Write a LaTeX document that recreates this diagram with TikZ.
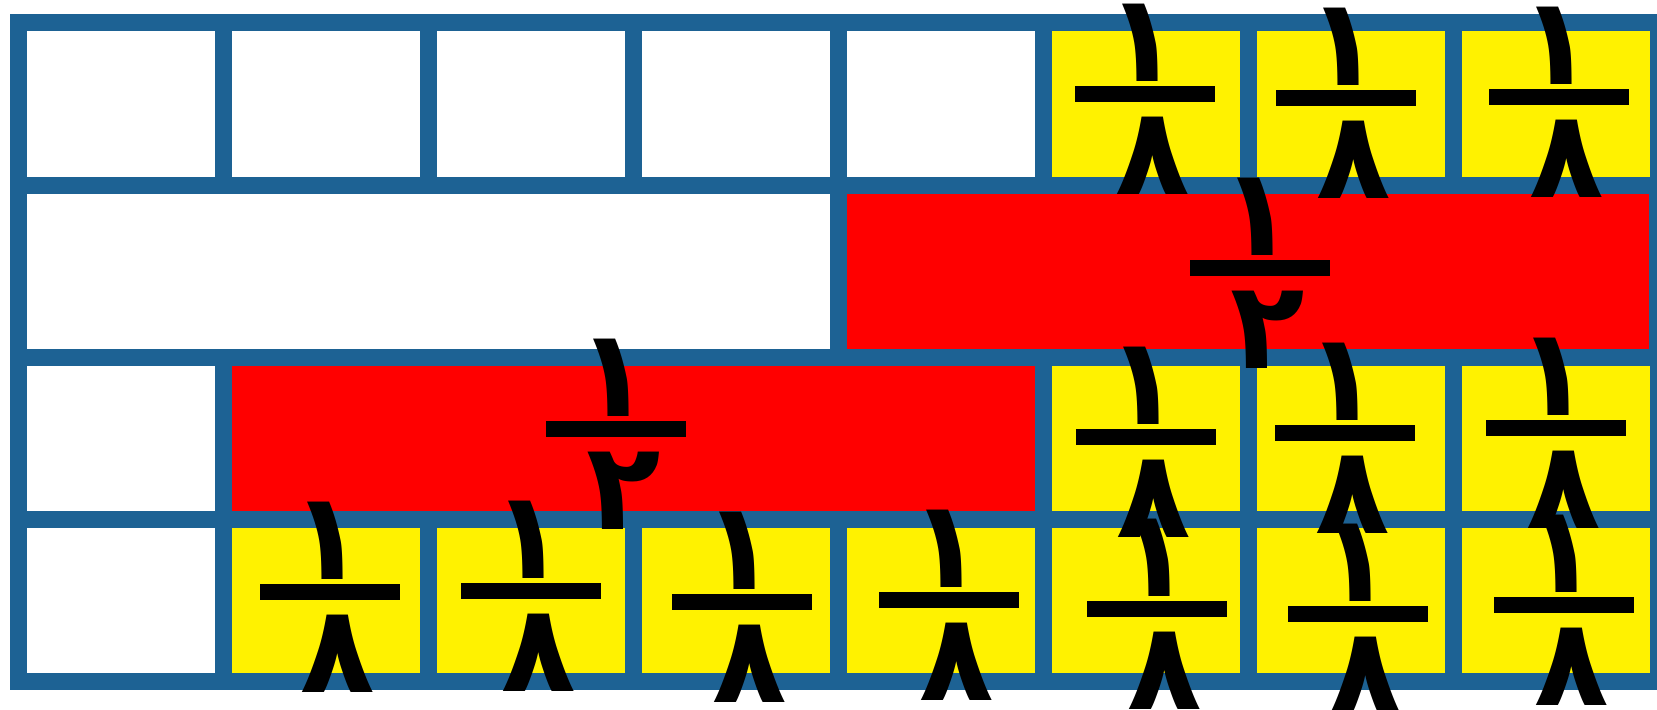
\documentclass[tikz,border=0pt]{standalone}
\usepackage{fontspec}
\newfontfamily\arabicfont[Script=Arabic]{DejaVu Sans}
\usetikzlibrary{positioning}
\definecolor{gridblue}{RGB}{29,98,148}

\begin{document}
\begin{tikzpicture}[x=0.5pt,y=-0.5pt,
  bar/.style={fill=black,minimum width=70pt,minimum height=8pt,inner sep=0pt},
  num/.style={inner sep=0pt,xshift=-1pt,font=\arabicfont\bfseries\fontsize{61}{61}\selectfont},
  den/.style={inner sep=0pt,xshift=4pt,font=\arabicfont\bfseries\fontsize{61}{61}\selectfont}]
\useasboundingbox (0,0) rectangle (1657,710);
\fill[gridblue] (10,14) rectangle (1666,690);
\foreach \c in {1,...,5} \fill[white] ({27+(\c-1)*205},31) rectangle ({215+(\c-1)*205},177);
\foreach \c in {6,7,8} {
  \fill[yellow] ({27+(\c-1)*205},31) rectangle ({215+(\c-1)*205},177);
  \fill[yellow] ({27+(\c-1)*205},366) rectangle ({215+(\c-1)*205},511);
}
\fill[white] (27,194) rectangle (830,349);
\fill[red] (847,194) rectangle (1649,349);
\fill[white] (27,366) rectangle (215,511);
\fill[red] (232,366) rectangle (1035,511);
\fill[white] (27,528) rectangle (215,673);
\foreach \c in {2,...,8} \fill[yellow] ({27+(\c-1)*205},528) rectangle ({215+(\c-1)*205},673);
\foreach \x/\y/\d [count=\i] in {1145/94/٨,1346/98/٨,1559/97/٨,1260/268/٢,616/429/٢,
    1146/437/٨,1345/433/٨,1556/428/٨,330/592/٨,531/591/٨,742/602/٨,949/600/٨,
    1157/609/٨,1358/614/٨,1564/605/٨} {
  \node[bar] (bar\i) at (\x,\y) {};
  \node[num,above=2pt of bar\i] (num\i) {١};
  \node[den,below=7pt of bar\i] (den\i) {\d};
}
\end{tikzpicture}
\end{document}
